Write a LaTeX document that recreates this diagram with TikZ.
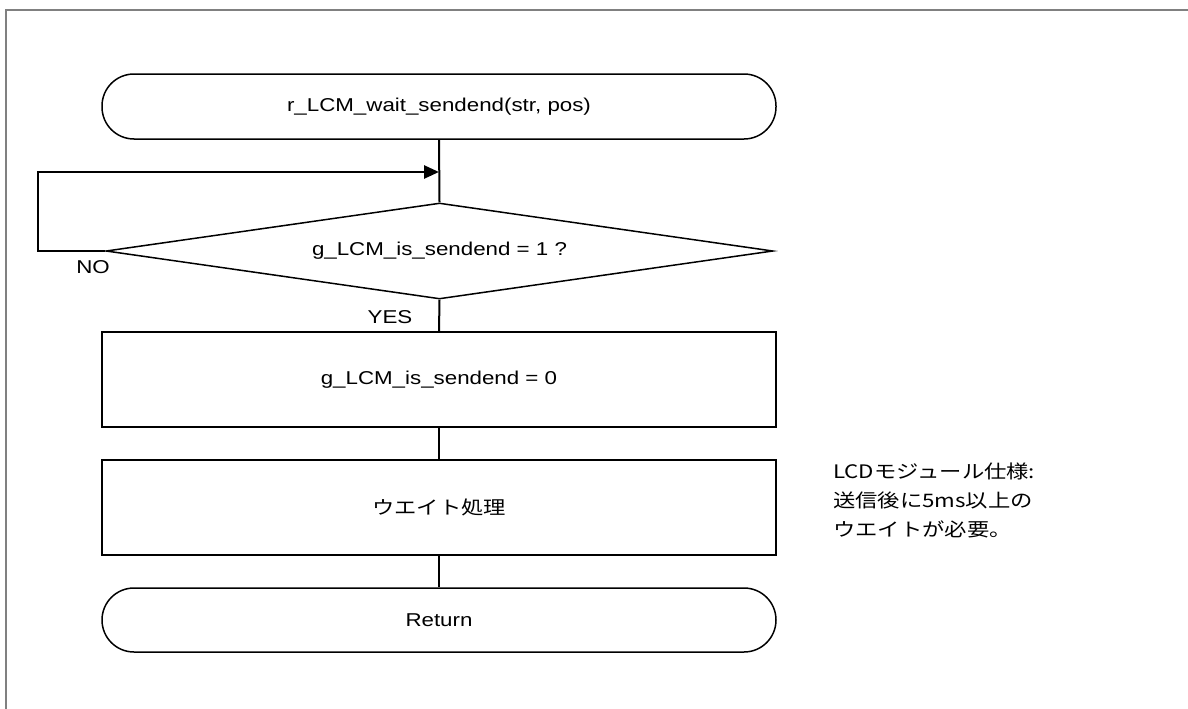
\documentclass[tikz,border=0pt]{standalone}
\usepackage{graphicx}
\usepackage{fontspec}
\setmainfont{Liberation Sans}
\newfontfamily\cjk{Noto Sans CJK JP}
\usetikzlibrary{shapes.geometric,arrows.meta}
\newcommand{\stretchtxt}[1]{\scalebox{1.2}[1]{#1}}
\begin{document}
\begin{tikzpicture}[x=1pt,y=-1pt,
  every node/.style={font=\fontsize{18.6}{29}\selectfont, inner sep=0pt},
  term/.style={draw, line width=1.5pt, rounded corners=32pt, minimum width=674pt, minimum height=65pt},
  proc/.style={draw, line width=1.3pt, minimum width=674pt, minimum height=95pt},
  dec/.style={draw, diamond, line width=1.5pt, minimum width=667pt, minimum height=96pt, aspect=6.95},
  flow/.style={line width=2pt},
  loopline/.style={line width=2.6pt, -{Triangle[length=15pt,width=13pt]}},
  framestyle/.style={draw=gray, line width=2pt},
  lbl/.style={anchor=center}]
\useasboundingbox (0,0) rectangle (1188,709);
\draw[framestyle] (6,709) -- (6,10) -- (1188,10);

\node[term] (start) at (439,106.5) {\stretchtxt{r\_LCM\_wait\_sendend(str, pos)}};
\node[dec] (dec) at (439.5,251) {\stretchtxt{g\_LCM\_is\_sendend = 1 ?}};
\node[proc] (clr) at (439,379.5) {\stretchtxt{g\_LCM\_is\_sendend = 0}};
\node[proc] (wait) at (439,507.5) {\stretchtxt{\cjk ウエイト処理}};
\node[term, minimum height=64pt] (ret) at (439,620) {\stretchtxt{Return}};

\coordinate (loopin) at (439,172);
\coordinate (loopleft) at (38,172);

\draw[flow] (start.south) -- (dec.north);
\draw[flow] (dec.south) -- (clr.north);
\draw[flow] (clr.south) -- (wait.north);
\draw[flow] (wait.south) -- (ret.north);
\draw[loopline] (dec.west) -| (loopleft) -- (loopin);

\node[lbl] (no) at (93,267) {\stretchtxt{NO}};
\node[lbl] (yes) at (390,317) {\stretchtxt{YES}};

\node[anchor=west, align=left, font=\cjk\fontsize{18.6}{29}\selectfont] (note) at (833,500)
  {\stretchtxt{LCDモジュール仕様:}\\\stretchtxt{送信後に5ms以上の}\\\stretchtxt{ウエイトが必要。}};
\end{tikzpicture}
\end{document}
